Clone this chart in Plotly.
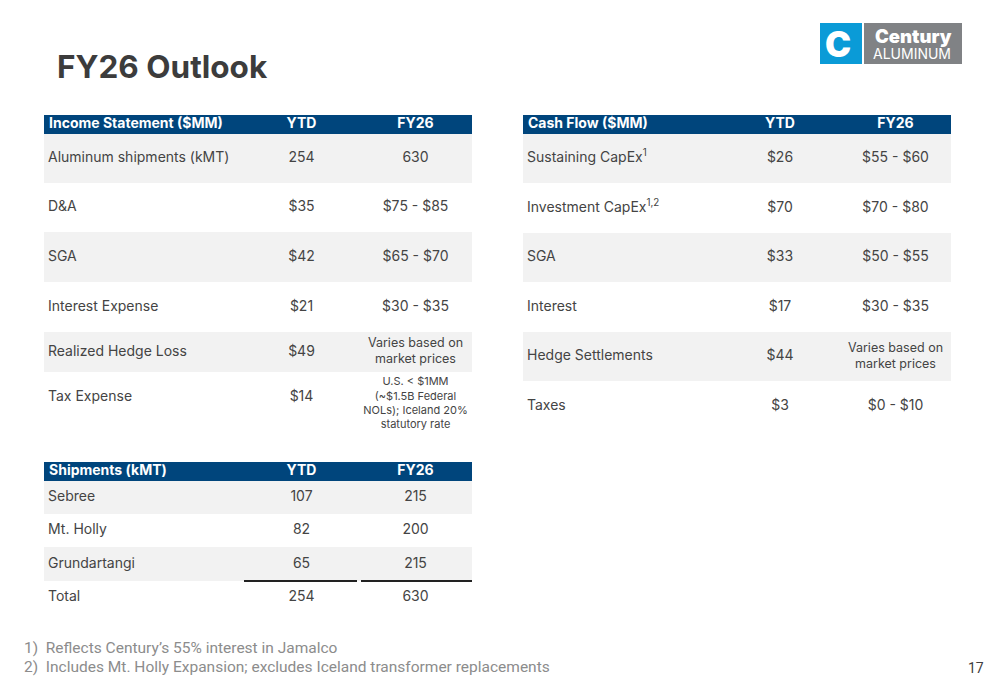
import plotly.graph_objects as go

FONT = "Inter, Arial, sans-serif"
NAVY = "#00457C"
GRAY = "#F2F2F2"
TXT = "#444444"

# ---- data ----
inc_labels = ["Aluminum shipments (kMT)", "D&A", "SGA", "Interest Expense",
              "Realized Hedge Loss", "Tax Expense"]
inc_ytd = ["254", "$35", "$42", "$21", "$49", "$14"]
inc_fy26 = ["630", "$75 - $85", "$65 - $70", "$30 - $35",
            "Varies based on<br>market prices",
            "U.S. < $1MM<br>(~$1.5B Federal<br>NOLs); Iceland 20%<br>statutory rate"]

cf_labels = ["Sustaining CapEx<sup>1</sup>", "Investment CapEx<sup>1,2</sup>", "SGA",
             "Interest", "Hedge Settlements", "Taxes"]
cf_ytd = ["$26", "$70", "$33", "$17", "$44", "$3"]
cf_fy26 = ["$55 - $60", "$70 - $80", "$50 - $55", "$30 - $35",
           "Varies based on<br>market prices", "$0 - $10"]

ship_labels = ["Sebree", "Mt. Holly", "Grundartangi", "Total"]
ship_ytd = ["107", "82", "65", "254"]
ship_fy26 = ["215", "200", "215", "630"]

footnotes = ["1)  Reflects Century’s 55% interest in Jamalco",
             "2)  Includes Mt. Holly Expansion; excludes Iceland transformer replacements"]

# ---- layout geometry (slide pixels) ----
INC_GEO = dict(cols=[44, 244, 359, 472], top=115, head=19, rows=[49, 49, 50, 50, 40, 50],
               fy_dy=[0, 0, 0, 0, 0, 7])
CF_GEO = dict(cols=[523, 720, 840, 951], top=115, head=19, rows=[49, 50, 49, 50, 49, 50])
SHIP_GEO = dict(cols=[44, 244, 359, 472], top=462, head=19, rows=[33, 33, 34, 33])

fig = go.Figure()


def cell_size(v):
    if v.startswith("U.S."):
        return 11
    if v.startswith("Varies"):
        return 12.5
    return 14


def add_table(title, labels, ytd, fy26, geo):
    cols, top, head = geo["cols"], geo["top"], geo["head"]
    # header band
    fig.add_shape(type="rect", xref="x", yref="y", x0=cols[0], x1=cols[-1],
                  y0=top, y1=top + head, fillcolor=NAVY, line_width=0, layer="below")
    edges = [top + head]
    for h in geo["rows"]:
        edges.append(edges[-1] + h)
    centers = [(a + b) / 2 for a, b in zip(edges[:-1], edges[1:])]
    fy_dy = geo.get("fy_dy", [0] * len(labels))
    for i in range(len(labels)):
        if i % 2 == 0:
            fig.add_shape(type="rect", xref="x", yref="y", x0=cols[0], x1=cols[-1],
                          y0=edges[i], y1=edges[i + 1], fillcolor=GRAY,
                          line_width=0, layer="below")
    hy = top + head / 2
    mids = [(cols[1] + cols[2]) / 2, (cols[2] + cols[3]) / 2]
    fig.add_trace(go.Scatter(x=[cols[0] + 5], y=[hy], text=[f"<b>{title}</b>"],
                             mode="text", textposition="middle right",
                             textfont=dict(family=FONT, size=14, color="white"),
                             hoverinfo="skip", showlegend=False))
    fig.add_trace(go.Scatter(x=mids, y=[hy, hy], text=["<b>YTD</b>", "<b>FY26</b>"],
                             mode="text", textposition="middle center",
                             textfont=dict(family=FONT, size=14, color="white"),
                             hoverinfo="skip", showlegend=False))
    fig.add_trace(go.Scatter(x=[cols[0] + 4] * len(labels), y=centers, text=labels,
                             mode="text", textposition="middle right",
                             textfont=dict(family=FONT, size=14, color=TXT),
                             hoverinfo="skip", showlegend=False))
    fig.add_trace(go.Scatter(x=[mids[0]] * len(ytd), y=centers, text=ytd,
                             mode="text", textposition="middle center",
                             textfont=dict(family=FONT, size=14, color=TXT),
                             hoverinfo="skip", showlegend=False))
    fig.add_trace(go.Scatter(x=[mids[1]] * len(fy26),
                             y=[c + d for c, d in zip(centers, fy_dy)], text=fy26,
                             mode="text", textposition="middle center",
                             textfont=dict(family=FONT, size=[cell_size(v) for v in fy26],
                                           color=TXT),
                             hoverinfo="skip", showlegend=False))
    return cols, edges


add_table("Income Statement ($MM)", inc_labels, inc_ytd, inc_fy26, INC_GEO)
add_table("Cash Flow ($MM)", cf_labels, cf_ytd, cf_fy26, CF_GEO)
cols, edges = add_table("Shipments (kMT)", ship_labels, ship_ytd, ship_fy26, SHIP_GEO)

# rule above the totals row
yl = edges[-2]
for x0, x1 in [(cols[1], cols[2] - 2), (cols[2] + 2, cols[3])]:
    fig.add_shape(type="line", xref="x", yref="y", x0=x0, x1=x1, y0=yl, y1=yl,
                  line=dict(color="#222222", width=2))

# title
fig.add_annotation(text="<b>FY26 Outlook</b>", x=55, y=66, xref="x", yref="y",
                   xanchor="left", yanchor="middle", showarrow=False,
                   font=dict(family=FONT, size=31.5, color="#3c3c3c"))

# logo
fig.add_shape(type="rect", xref="x", yref="y", x0=820, x1=862, y0=23, y1=64,
              fillcolor="#0A9BD7", line_width=0)
fig.add_shape(type="rect", xref="x", yref="y", x0=864, x1=962, y0=23, y1=64,
              fillcolor="#808285", line_width=0)
fig.add_annotation(text="C", x=838, y=44, xref="x", yref="y", showarrow=False,
                   font=dict(family=FONT, size=35, color="white", weight=900))
fig.add_annotation(text="Century", x=913, y=36, xref="x", yref="y", showarrow=False,
                   font=dict(family=FONT, size=18.5, color="white", weight=900))
fig.add_annotation(text="ALUMINUM", x=912, y=53, xref="x", yref="y", showarrow=False,
                   font=dict(family=FONT, size=14, color="white"))

# footnotes
for i, t in enumerate(footnotes):
    fig.add_annotation(text=t, x=22, y=648 + 19 * i, xref="x", yref="y",
                       xanchor="left", yanchor="middle", showarrow=False,
                       font=dict(family="Roboto, Arial", size=15.5, color="#8c8c8c"))
fig.add_annotation(text="17", x=976, y=668, xref="x", yref="y", showarrow=False,
                   font=dict(family="Roboto, Arial", size=14, color="#404040"))

# page body has an 8px margin, so the axes map straight onto slide pixels
fig.update_xaxes(range=[8, 992], visible=False, fixedrange=True)
fig.update_yaxes(range=[677, 8], visible=False, fixedrange=True)
fig.update_layout(width=984, height=669, margin=dict(l=0, r=0, t=0, b=0),
                  paper_bgcolor="white", plot_bgcolor="white")
fig.write_html("out.html")
